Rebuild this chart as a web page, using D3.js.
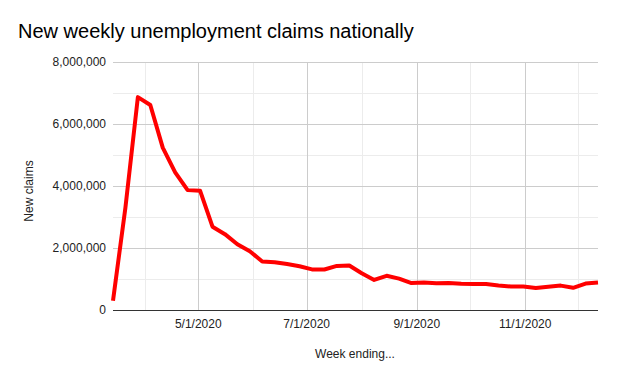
<!DOCTYPE html>
<html><head><meta charset="utf-8">
<script src="https://cdn.jsdelivr.net/npm/d3@7"></script>
<style>body{margin:0;background:#fff;} svg{display:block;font-family:"Liberation Sans",Arial,sans-serif;}</style>
</head><body><svg id="c" width="618" height="382"></svg>
<script>
const weeks = ["2020-03-14","2020-03-21","2020-03-28","2020-04-04","2020-04-11","2020-04-18","2020-04-25","2020-05-02","2020-05-09","2020-05-16","2020-05-23","2020-05-30","2020-06-06","2020-06-13","2020-06-20","2020-06-27","2020-07-04","2020-07-11","2020-07-18","2020-07-25","2020-08-01","2020-08-08","2020-08-15","2020-08-22","2020-08-29","2020-09-05","2020-09-12","2020-09-19","2020-09-26","2020-10-03","2020-10-10","2020-10-17","2020-10-24","2020-10-31","2020-11-07","2020-11-14","2020-11-21","2020-11-28","2020-12-05","2020-12-12"];
const claims = [300000,3307000,6867000,6615000,5237000,4442000,3867000,3849000,2687000,2446000,2123000,1897000,1566000,1540000,1482000,1413000,1310000,1307000,1422000,1434000,1186000,971000,1104000,1011000,870000,884000,860000,873000,849000,840000,842000,791000,756000,757000,711000,748000,787000,716000,853000,885000];
const yMajorTicks = [0,2000000,4000000,6000000,8000000];
const yMinorTicks = [1000000,3000000,5000000,7000000];
const xMajorTicks = ["2020-05-01","2020-07-01","2020-09-01","2020-11-01"];
const xMinorTicks = ["2020-04-01","2020-06-01","2020-08-01","2020-10-01","2020-12-01"];

const parse = d3.utcParse("%Y-%m-%d");
const data = weeks.map((w,i)=>({d:parse(w), v:claims[i]}));
const svg = d3.select("#c");
const L=113, R=598, T=62, B=310;
const x = d3.scaleUtc().domain([data[0].d, data[data.length-1].d]).range([L,R]);
const y = d3.scaleLinear().domain([0,8000000]).range([B,T]);

const g = svg.append("g");
// minor grid
g.selectAll(".hmin").data(yMinorTicks).join("line").attr("x1",L).attr("x2",R).attr("y1",d=>Math.round(y(d))+0.5).attr("y2",d=>Math.round(y(d))+0.5).attr("stroke","#ececec");
g.selectAll(".vmin").data(xMinorTicks.map(parse)).join("line").attr("y1",T).attr("y2",B).attr("x1",d=>Math.round(x(d))+0.5).attr("x2",d=>Math.round(x(d))+0.5).attr("stroke","#ececec");
// major grid
g.selectAll(".hmaj").data(yMajorTicks.filter(d=>d>0)).join("line").attr("x1",L).attr("x2",R).attr("y1",d=>Math.round(y(d))+0.5).attr("y2",d=>Math.round(y(d))+0.5).attr("stroke","#cccccc");
g.selectAll(".vmaj").data(xMajorTicks.map(parse)).join("line").attr("y1",T).attr("y2",B).attr("x1",d=>Math.round(x(d))+0.5).attr("x2",d=>Math.round(x(d))+0.5).attr("stroke","#cccccc");

// y axis labels
const fmt = d3.format(",");
svg.append("g").selectAll("text").data(yMajorTicks).join("text")
  .attr("x",106).attr("y",d=>y(d)+4).attr("text-anchor","end").attr("font-size",12).attr("fill","#222").text(d=>fmt(d));
// x axis labels
const xf = d3.utcFormat("%-m/%-d/%Y");
svg.append("g").selectAll("text").data(xMajorTicks.map(parse)).join("text")
  .attr("x",d=>x(d)).attr("y",328).attr("text-anchor","middle").attr("font-size",12).attr("fill","#222").text(d=>xf(d));

// baseline
svg.append("line").attr("x1",L).attr("x2",R).attr("y1",B+0.5).attr("y2",B+0.5).attr("stroke","#333");

// line
svg.append("path").datum(data).attr("fill","none").attr("stroke","#ff0000").attr("stroke-width",4).attr("stroke-linejoin","round")
  .attr("d", d3.line().x(d=>x(d.d)).y(d=>y(d.v)));

// titles
svg.append("text").attr("x",18).attr("y",38).attr("font-size",20).attr("fill","#000").text("New weekly unemployment claims nationally");
svg.append("text").attr("x",355).attr("y",358).attr("text-anchor","middle").attr("font-size",12).attr("fill","#222").text("Week ending...");
svg.append("text").attr("transform","translate(33,191) rotate(-90)").attr("text-anchor","middle").attr("font-size",12).attr("fill","#222").text("New claims");
</script></body></html>
